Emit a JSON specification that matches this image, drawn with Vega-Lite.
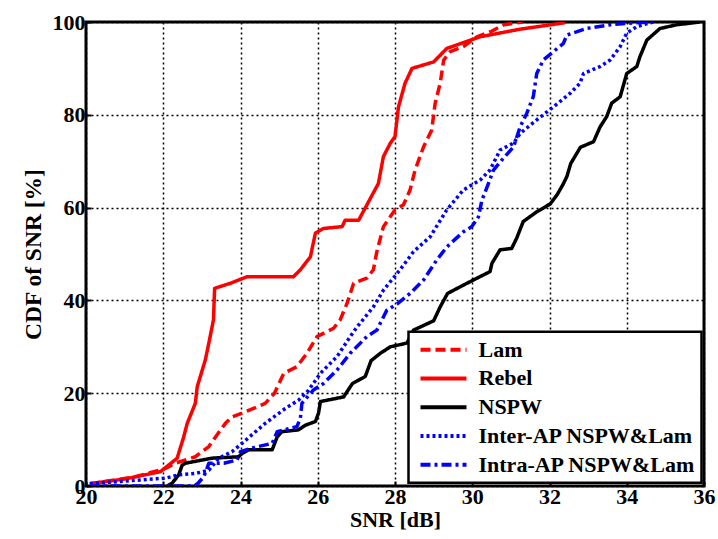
{
  "$schema": "https://vega.github.io/schema/vega-lite/v6.json",
  "width": 618,
  "height": 464,
  "autosize": {"type": "none"},
  "padding": {"left": 86, "top": 22, "right": 14, "bottom": 53},
  "background": "white",
  "config": {
    "view": {"stroke": "black", "strokeWidth": 3},
    "font": "Liberation Serif",
    "axis": {
      "domain": false,
      "ticks": true,
      "tickSize": -5,
      "tickWidth": 2,
      "tickColor": "black",
      "grid": true,
      "gridColor": "black",
      "gridDash": [2, 3],
      "gridWidth": 1.5,
      "gridOpacity": 1,
      "labelFont": "Liberation Serif",
      "labelFontWeight": "bold",
      "labelFontSize": 22,
      "labelColor": "black",
      "titleFont": "Liberation Serif",
      "titleFontWeight": "bold",
      "titleFontSize": 22,
      "titleColor": "black"
    },
    "legend": {
      "orient": "none",
      "legendX": 322.5,
      "legendY": 309.7,
      "fillColor": "white",
      "strokeColor": "black",
      "padding": 6,
      "clipHeight": 24,
      "symbolType": "stroke",
      "symbolSize": 2116,
      "symbolStrokeWidth": 4,
      "symbolOffset": 4,
      "labelFont": "Liberation Serif",
      "labelFontWeight": "bold",
      "labelFontSize": 22,
      "labelColor": "black",
      "labelLimit": 400,
      "labelOffset": 10,
      "rowPadding": 4.75
    }
  },
  "data": {
    "values": [
      {"s": "Rebel", "x": 20.1, "y": 0.5}, {"s": "Rebel", "x": 21.0, "y": 1.5}, {"s": "Rebel", "x": 21.93, "y": 3.1}, {"s": "Rebel", "x": 22.36, "y": 6}, {"s": "Rebel", "x": 22.53, "y": 10.6}, {"s": "Rebel", "x": 22.62, "y": 13.5}, {"s": "Rebel", "x": 22.83, "y": 17.8}, {"s": "Rebel", "x": 22.88, "y": 21.4}, {"s": "Rebel", "x": 23.09, "y": 27.2}, {"s": "Rebel", "x": 23.18, "y": 30.8}, {"s": "Rebel", "x": 23.3, "y": 35.8}, {"s": "Rebel", "x": 23.33, "y": 42.6}, {"s": "Rebel", "x": 23.74, "y": 43.7}, {"s": "Rebel", "x": 24.17, "y": 45.1}, {"s": "Rebel", "x": 25.37, "y": 45.1}, {"s": "Rebel", "x": 25.55, "y": 46.6}, {"s": "Rebel", "x": 25.81, "y": 49.4}, {"s": "Rebel", "x": 25.85, "y": 51}, {"s": "Rebel", "x": 25.94, "y": 54.5}, {"s": "Rebel", "x": 26.15, "y": 55.5}, {"s": "Rebel", "x": 26.63, "y": 55.9}, {"s": "Rebel", "x": 26.71, "y": 57.3}, {"s": "Rebel", "x": 27.06, "y": 57.3}, {"s": "Rebel", "x": 27.57, "y": 65.2}, {"s": "Rebel", "x": 27.7, "y": 71}, {"s": "Rebel", "x": 27.88, "y": 73.9}, {"s": "Rebel", "x": 28.0, "y": 75.3}, {"s": "Rebel", "x": 28.09, "y": 81.7}, {"s": "Rebel", "x": 28.26, "y": 86.8}, {"s": "Rebel", "x": 28.44, "y": 90}, {"s": "Rebel", "x": 29.0, "y": 91.4}, {"s": "Rebel", "x": 29.34, "y": 94.3}, {"s": "Rebel", "x": 30.2, "y": 96.8}, {"s": "Rebel", "x": 31.2, "y": 98.4}, {"s": "Rebel", "x": 32.36, "y": 99.8}, {"s": "Rebel", "x": 32.4, "y": 100},

      {"s": "Lam", "x": 20.1, "y": 0.5}, {"s": "Lam", "x": 21.28, "y": 2}, {"s": "Lam", "x": 22.06, "y": 3.8}, {"s": "Lam", "x": 22.31, "y": 4.9}, {"s": "Lam", "x": 22.83, "y": 6.3}, {"s": "Lam", "x": 23.18, "y": 8.5}, {"s": "Lam", "x": 23.39, "y": 11}, {"s": "Lam", "x": 23.61, "y": 13.5}, {"s": "Lam", "x": 23.78, "y": 14.9}, {"s": "Lam", "x": 24.13, "y": 16}, {"s": "Lam", "x": 24.64, "y": 17.8}, {"s": "Lam", "x": 24.88, "y": 20}, {"s": "Lam", "x": 25.12, "y": 24.3}, {"s": "Lam", "x": 25.46, "y": 25.7}, {"s": "Lam", "x": 25.72, "y": 28.6}, {"s": "Lam", "x": 25.98, "y": 32.2}, {"s": "Lam", "x": 26.41, "y": 34}, {"s": "Lam", "x": 26.58, "y": 35.8}, {"s": "Lam", "x": 26.76, "y": 39.4}, {"s": "Lam", "x": 26.93, "y": 43.7}, {"s": "Lam", "x": 27.27, "y": 44.8}, {"s": "Lam", "x": 27.44, "y": 46.6}, {"s": "Lam", "x": 27.53, "y": 50.5}, {"s": "Lam", "x": 27.7, "y": 55.9}, {"s": "Lam", "x": 28.0, "y": 59.5}, {"s": "Lam", "x": 28.22, "y": 60.6}, {"s": "Lam", "x": 28.39, "y": 63.8}, {"s": "Lam", "x": 28.52, "y": 68.1}, {"s": "Lam", "x": 28.74, "y": 73.1}, {"s": "Lam", "x": 28.95, "y": 76.7}, {"s": "Lam", "x": 29.04, "y": 82.5}, {"s": "Lam", "x": 29.17, "y": 86.8}, {"s": "Lam", "x": 29.26, "y": 91.8}, {"s": "Lam", "x": 29.43, "y": 93.6}, {"s": "Lam", "x": 29.77, "y": 94.7}, {"s": "Lam", "x": 30.12, "y": 96.8}, {"s": "Lam", "x": 30.5, "y": 98}, {"s": "Lam", "x": 30.81, "y": 99.4}, {"s": "Lam", "x": 31.15, "y": 99.8}, {"s": "Lam", "x": 31.3, "y": 100},

      {"s": "NSPW", "x": 22.1, "y": 0}, {"s": "NSPW", "x": 22.23, "y": 0.6}, {"s": "NSPW", "x": 22.4, "y": 2.4}, {"s": "NSPW", "x": 22.49, "y": 4.5}, {"s": "NSPW", "x": 22.57, "y": 4.9}, {"s": "NSPW", "x": 23.26, "y": 6}, {"s": "NSPW", "x": 23.95, "y": 6.3}, {"s": "NSPW", "x": 24.04, "y": 7}, {"s": "NSPW", "x": 24.21, "y": 7.8}, {"s": "NSPW", "x": 24.82, "y": 7.8}, {"s": "NSPW", "x": 24.95, "y": 10.6}, {"s": "NSPW", "x": 25.07, "y": 11.7}, {"s": "NSPW", "x": 25.5, "y": 12.1}, {"s": "NSPW", "x": 25.68, "y": 13.1}, {"s": "NSPW", "x": 25.94, "y": 13.9}, {"s": "NSPW", "x": 26.02, "y": 15.7}, {"s": "NSPW", "x": 26.07, "y": 18.2}, {"s": "NSPW", "x": 26.67, "y": 19.2}, {"s": "NSPW", "x": 26.9, "y": 22.1}, {"s": "NSPW", "x": 27.23, "y": 23.6}, {"s": "NSPW", "x": 27.38, "y": 27}, {"s": "NSPW", "x": 27.62, "y": 28.6}, {"s": "NSPW", "x": 27.88, "y": 30}, {"s": "NSPW", "x": 28.31, "y": 30.8}, {"s": "NSPW", "x": 28.48, "y": 33.6}, {"s": "NSPW", "x": 29.0, "y": 35.6}, {"s": "NSPW", "x": 29.17, "y": 38.6}, {"s": "NSPW", "x": 29.36, "y": 41.5}, {"s": "NSPW", "x": 29.75, "y": 43.2}, {"s": "NSPW", "x": 30.03, "y": 44.4}, {"s": "NSPW", "x": 30.46, "y": 46.2}, {"s": "NSPW", "x": 30.51, "y": 48}, {"s": "NSPW", "x": 30.72, "y": 50.9}, {"s": "NSPW", "x": 31.02, "y": 51.2}, {"s": "NSPW", "x": 31.15, "y": 53.4}, {"s": "NSPW", "x": 31.32, "y": 57}, {"s": "NSPW", "x": 31.67, "y": 59.1}, {"s": "NSPW", "x": 32.02, "y": 60.8}, {"s": "NSPW", "x": 32.2, "y": 62.8}, {"s": "NSPW", "x": 32.35, "y": 65}, {"s": "NSPW", "x": 32.45, "y": 66.7}, {"s": "NSPW", "x": 32.55, "y": 69.5}, {"s": "NSPW", "x": 32.8, "y": 73}, {"s": "NSPW", "x": 33.14, "y": 74.2}, {"s": "NSPW", "x": 33.31, "y": 77.4}, {"s": "NSPW", "x": 33.48, "y": 79.6}, {"s": "NSPW", "x": 33.61, "y": 82.5}, {"s": "NSPW", "x": 33.83, "y": 83.9}, {"s": "NSPW", "x": 34.0, "y": 88.9}, {"s": "NSPW", "x": 34.26, "y": 90.4}, {"s": "NSPW", "x": 34.34, "y": 92.5}, {"s": "NSPW", "x": 34.52, "y": 96.1}, {"s": "NSPW", "x": 34.86, "y": 98.6}, {"s": "NSPW", "x": 35.29, "y": 99.4}, {"s": "NSPW", "x": 35.9, "y": 100},

      {"s": "Inter-AP NSPW&Lam", "x": 20.1, "y": 0.5}, {"s": "Inter-AP NSPW&Lam", "x": 22.06, "y": 1.7}, {"s": "Inter-AP NSPW&Lam", "x": 22.4, "y": 2.4}, {"s": "Inter-AP NSPW&Lam", "x": 22.83, "y": 2.7}, {"s": "Inter-AP NSPW&Lam", "x": 23.18, "y": 3.4}, {"s": "Inter-AP NSPW&Lam", "x": 23.44, "y": 6}, {"s": "Inter-AP NSPW&Lam", "x": 23.78, "y": 7.4}, {"s": "Inter-AP NSPW&Lam", "x": 24.04, "y": 9.2}, {"s": "Inter-AP NSPW&Lam", "x": 24.64, "y": 13.5}, {"s": "Inter-AP NSPW&Lam", "x": 25.16, "y": 16.7}, {"s": "Inter-AP NSPW&Lam", "x": 25.5, "y": 18.5}, {"s": "Inter-AP NSPW&Lam", "x": 25.75, "y": 20.5}, {"s": "Inter-AP NSPW&Lam", "x": 26.07, "y": 24.3}, {"s": "Inter-AP NSPW&Lam", "x": 26.5, "y": 27.9}, {"s": "Inter-AP NSPW&Lam", "x": 26.84, "y": 32.2}, {"s": "Inter-AP NSPW&Lam", "x": 27.02, "y": 34.3}, {"s": "Inter-AP NSPW&Lam", "x": 27.44, "y": 38.6}, {"s": "Inter-AP NSPW&Lam", "x": 27.7, "y": 42.2}, {"s": "Inter-AP NSPW&Lam", "x": 28.13, "y": 46.6}, {"s": "Inter-AP NSPW&Lam", "x": 28.48, "y": 50.5}, {"s": "Inter-AP NSPW&Lam", "x": 28.91, "y": 53.7}, {"s": "Inter-AP NSPW&Lam", "x": 29.34, "y": 59.5}, {"s": "Inter-AP NSPW&Lam", "x": 29.77, "y": 63.8}, {"s": "Inter-AP NSPW&Lam", "x": 30.2, "y": 65.9}, {"s": "Inter-AP NSPW&Lam", "x": 30.46, "y": 68.1}, {"s": "Inter-AP NSPW&Lam", "x": 30.72, "y": 72.4}, {"s": "Inter-AP NSPW&Lam", "x": 31.07, "y": 73.9}, {"s": "Inter-AP NSPW&Lam", "x": 31.24, "y": 76}, {"s": "Inter-AP NSPW&Lam", "x": 31.67, "y": 78.9}, {"s": "Inter-AP NSPW&Lam", "x": 32.1, "y": 81.7}, {"s": "Inter-AP NSPW&Lam", "x": 32.53, "y": 84.6}, {"s": "Inter-AP NSPW&Lam", "x": 32.79, "y": 86.8}, {"s": "Inter-AP NSPW&Lam", "x": 32.88, "y": 88.9}, {"s": "Inter-AP NSPW&Lam", "x": 33.31, "y": 90.4}, {"s": "Inter-AP NSPW&Lam", "x": 33.57, "y": 91.8}, {"s": "Inter-AP NSPW&Lam", "x": 33.83, "y": 94.7}, {"s": "Inter-AP NSPW&Lam", "x": 34.0, "y": 97.6}, {"s": "Inter-AP NSPW&Lam", "x": 34.26, "y": 99}, {"s": "Inter-AP NSPW&Lam", "x": 34.6, "y": 99.8}, {"s": "Inter-AP NSPW&Lam", "x": 34.7, "y": 100},

      {"s": "Intra-AP NSPW&Lam", "x": 20.1, "y": 0}, {"s": "Intra-AP NSPW&Lam", "x": 22.8, "y": 0}, {"s": "Intra-AP NSPW&Lam", "x": 22.9, "y": 0.6}, {"s": "Intra-AP NSPW&Lam", "x": 23.05, "y": 2}, {"s": "Intra-AP NSPW&Lam", "x": 23.18, "y": 4.9}, {"s": "Intra-AP NSPW&Lam", "x": 23.57, "y": 4.9}, {"s": "Intra-AP NSPW&Lam", "x": 23.91, "y": 5.6}, {"s": "Intra-AP NSPW&Lam", "x": 24.0, "y": 7.4}, {"s": "Intra-AP NSPW&Lam", "x": 24.26, "y": 8.1}, {"s": "Intra-AP NSPW&Lam", "x": 24.82, "y": 9.2}, {"s": "Intra-AP NSPW&Lam", "x": 24.95, "y": 11.7}, {"s": "Intra-AP NSPW&Lam", "x": 25.46, "y": 12.8}, {"s": "Intra-AP NSPW&Lam", "x": 25.55, "y": 14.6}, {"s": "Intra-AP NSPW&Lam", "x": 25.59, "y": 17.8}, {"s": "Intra-AP NSPW&Lam", "x": 25.89, "y": 20.7}, {"s": "Intra-AP NSPW&Lam", "x": 26.15, "y": 22.1}, {"s": "Intra-AP NSPW&Lam", "x": 26.5, "y": 25}, {"s": "Intra-AP NSPW&Lam", "x": 26.84, "y": 28.6}, {"s": "Intra-AP NSPW&Lam", "x": 27.27, "y": 32.2}, {"s": "Intra-AP NSPW&Lam", "x": 27.53, "y": 33.6}, {"s": "Intra-AP NSPW&Lam", "x": 27.79, "y": 37.9}, {"s": "Intra-AP NSPW&Lam", "x": 28.05, "y": 39.2}, {"s": "Intra-AP NSPW&Lam", "x": 28.39, "y": 41.5}, {"s": "Intra-AP NSPW&Lam", "x": 28.74, "y": 44.4}, {"s": "Intra-AP NSPW&Lam", "x": 29.08, "y": 48.7}, {"s": "Intra-AP NSPW&Lam", "x": 29.34, "y": 51.5}, {"s": "Intra-AP NSPW&Lam", "x": 29.77, "y": 54.8}, {"s": "Intra-AP NSPW&Lam", "x": 29.99, "y": 55.9}, {"s": "Intra-AP NSPW&Lam", "x": 30.16, "y": 58}, {"s": "Intra-AP NSPW&Lam", "x": 30.25, "y": 61.6}, {"s": "Intra-AP NSPW&Lam", "x": 30.42, "y": 65.2}, {"s": "Intra-AP NSPW&Lam", "x": 30.55, "y": 68.1}, {"s": "Intra-AP NSPW&Lam", "x": 30.77, "y": 70.3}, {"s": "Intra-AP NSPW&Lam", "x": 31.07, "y": 73.1}, {"s": "Intra-AP NSPW&Lam", "x": 31.24, "y": 77.4}, {"s": "Intra-AP NSPW&Lam", "x": 31.41, "y": 80.3}, {"s": "Intra-AP NSPW&Lam", "x": 31.58, "y": 83.9}, {"s": "Intra-AP NSPW&Lam", "x": 31.67, "y": 88.9}, {"s": "Intra-AP NSPW&Lam", "x": 31.84, "y": 91.8}, {"s": "Intra-AP NSPW&Lam", "x": 32.1, "y": 93.6}, {"s": "Intra-AP NSPW&Lam", "x": 32.36, "y": 95.4}, {"s": "Intra-AP NSPW&Lam", "x": 32.45, "y": 97.2}, {"s": "Intra-AP NSPW&Lam", "x": 32.96, "y": 98.6}, {"s": "Intra-AP NSPW&Lam", "x": 33.57, "y": 99.4}, {"s": "Intra-AP NSPW&Lam", "x": 34.0, "y": 99.7}, {"s": "Intra-AP NSPW&Lam", "x": 34.6, "y": 100}
    ]
  },
  "mark": {"type": "line", "strokeWidth": 3.5, "clip": true, "strokeCap": "butt", "strokeJoin": "round"},
  "encoding": {
    "x": {
      "field": "x", "type": "quantitative",
      "scale": {"domain": [20, 36], "nice": false, "zero": false},
      "axis": {"values": [20, 22, 24, 26, 28, 30, 32, 34, 36], "title": "SNR [dB]", "labelPadding": 5, "titlePadding": 2, "labelFlush": false}
    },
    "y": {
      "field": "y", "type": "quantitative",
      "scale": {"domain": [0, 100], "nice": false},
      "axis": {"values": [0, 20, 40, 60, 80, 100], "title": "CDF of SNR [%]", "titleFontSize": 23.5, "labelPadding": 6, "titlePadding": 7, "labelFlush": false}
    },
    "color": {
      "field": "s", "type": "nominal",
      "scale": {
        "domain": ["Lam", "Rebel", "NSPW", "Inter-AP NSPW&Lam", "Intra-AP NSPW&Lam"],
        "range": ["#ff0000", "#ff0000", "#000000", "#0000ff", "#0000ff"]
      },
      "legend": {
        "title": null,
        "labelExpr": "datum.label + '\u00a0\u00a0'",
        "encode": {"legend": {"update": {"strokeWidth": {"value": 2.5}}}}
      }
    },
    "strokeDash": {
      "field": "s", "type": "nominal",
      "scale": {
        "domain": ["Lam", "Rebel", "NSPW", "Inter-AP NSPW&Lam", "Intra-AP NSPW&Lam"],
        "range": [[10, 5], [1, 0], [1, 0], [3, 3], [10, 4, 3, 4]]
      },
      "legend": {
        "title": null,
        "labelExpr": "datum.label + '\u00a0\u00a0'",
        "encode": {"legend": {"update": {"strokeWidth": {"value": 2.5}}}}
      }
    }
  }
}
